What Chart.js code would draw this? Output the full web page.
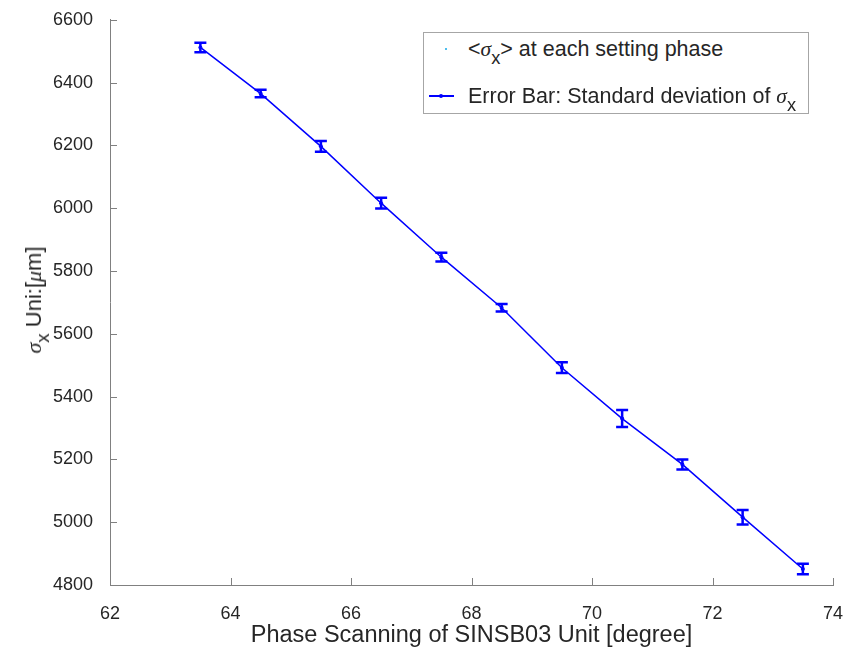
<!DOCTYPE html>
<html>
<head>
<meta charset="utf-8">
<script src="https://cdn.jsdelivr.net/npm/chart.js@4/dist/chart.umd.min.js"></script>
<style>
    body { margin: 0; background: #fff; }
    #wrap { position: relative; width: 849px; height: 650px; font-family: "Liberation Sans", Arial, sans-serif; }
    #sigma-chart { position: absolute; left: 0; top: 0; }
    .sig { font-family: "Liberation Serif", serif; font-style: italic; }
    sub { font-size: 0.85em; vertical-align: -0.45em; line-height: 0; }
    #legend {
        position: absolute; left: 423px; top: 32px; width: 384px; height: 80px;
        border: 1px solid #a6a6a6; background: #fff; color: #262626; font-size: 21.5px;
    }
    #legend .row { position: absolute; left: 0; height: 26px; line-height: 26px; white-space: nowrap; }
    #legend .txt { position: absolute; left: 44px; top: 0; }
    #legend .dot { position: absolute; width: 2px; height: 2px; background: #4dbeee; left: 21px; top: 12px; }
    #legend .ln { position: absolute; left: 5px; width: 25px; height: 1.5px; top: 12px; background: #0000ff; }
    #legend .mk { position: absolute; left: 15px; width: 4px; height: 4px; top: 11px; background: #0000ff; border-radius: 2px; }
    #y-title {
        position: absolute; left: 34px; top: 300px; color: #262626; font-size: 22px; white-space: nowrap;
        transform: translate(-50%, -50%) rotate(-90deg);
    }
</style>
</head>
<body>
<div id="wrap">
    <canvas id="sigma-chart" width="849" height="650"></canvas>
    <div id="legend">
        <div class="row" style="top: 3px; width: 384px;">
            <div class="dot"></div>
            <div class="txt">&lt;<span class="sig">σ</span><sub>x</sub>&gt; at each setting phase</div>
        </div>
        <div class="row" style="top: 50px; width: 384px;">
            <div class="ln"></div><div class="mk"></div>
            <div class="txt">Error Bar: Standard deviation of <span class="sig">σ</span><sub>x</sub></div>
        </div>
    </div>
    <div id="y-title"><span class="sig">σ</span><sub>x</sub> Uni:[<span class="sig">μ</span>m]</div>
</div>
<script>
(function () {
    // phase setting [degree] and measured beam size [um]
    const phase = [63.5, 64.5, 65.5, 66.5, 67.5, 68.5, 69.5, 70.5, 71.5, 72.5, 73.5];
    const sigmaMean = [6512, 6365, 6197, 6016, 5844, 5683, 5492, 5330, 5184, 5016, 4851];
    const sigmaStd = [15, 12, 17, 17, 14, 12, 17, 27, 16, 23, 17];

    const xTicks = [62, 64, 66, 68, 70, 72, 74];
    const yTicks = [4800, 5000, 5200, 5400, 5600, 5800, 6000, 6200, 6400, 6600];

    const TICK_COLOR = '#262626';
    const AXIS_COLOR = '#808080';
    const FONT = '"Liberation Sans", Arial, sans-serif';

    main();

    function main() {
        const meanPoints = phase.map((x, i) => ({ x: x, y: sigmaMean[i] }));

        const errorBarPlugin = {
            id: 'errorBars',
            afterDatasetsDraw(chart) {
                const { ctx, scales } = chart;
                ctx.save();
                ctx.strokeStyle = '#0000ff';
                ctx.lineWidth = 2.5;
                phase.forEach((x, i) => {
                    const px = scales.x.getPixelForValue(x);
                    const top = scales.y.getPixelForValue(sigmaMean[i] + sigmaStd[i]);
                    const bottom = scales.y.getPixelForValue(sigmaMean[i] - sigmaStd[i]);
                    ctx.beginPath();
                    ctx.moveTo(px, top);
                    ctx.lineTo(px, bottom);
                    ctx.moveTo(px - 6, top);
                    ctx.lineTo(px + 6, top);
                    ctx.moveTo(px - 6, bottom);
                    ctx.lineTo(px + 6, bottom);
                    ctx.stroke();
                });
                ctx.restore();
            }
        };

        // matlab style ticks pointing into the plot area
        const innerTicksPlugin = {
            id: 'innerTicks',
            afterDraw(chart) {
                const { ctx, scales, chartArea } = chart;
                ctx.save();
                ctx.strokeStyle = AXIS_COLOR;
                ctx.lineWidth = 1;
                ctx.beginPath();
                scales.x.ticks.forEach((t) => {
                    const px = Math.round(scales.x.getPixelForValue(t.value)) + 0.5;
                    ctx.moveTo(px, chartArea.bottom);
                    ctx.lineTo(px, chartArea.bottom - 7);
                });
                scales.y.ticks.forEach((t) => {
                    const py = Math.round(scales.y.getPixelForValue(t.value)) + 0.5;
                    ctx.moveTo(chartArea.left, py);
                    ctx.lineTo(chartArea.left + 7, py);
                });
                ctx.stroke();
                ctx.restore();
            }
        };

        new Chart(document.getElementById('sigma-chart'), {
            type: 'scatter',
            data: {
                datasets: [
                    {
                        label: 'mean',
                        data: meanPoints,
                        showLine: false,
                        pointRadius: 1,
                        pointBackgroundColor: '#4dbeee',
                        pointBorderWidth: 0,
                    },
                    {
                        label: 'error bar',
                        data: meanPoints,
                        showLine: true,
                        borderColor: '#0000ff',
                        borderWidth: 1.5,
                        pointRadius: 2,
                        pointBackgroundColor: '#0000ff',
                        pointBorderWidth: 0,
                    },
                ],
            },
            options: {
                responsive: false,
                animation: false,
                layout: { padding: { top: 18, right: 16, left: 0, bottom: 0 } },
                plugins: {
                    legend: { display: false },
                    tooltip: { enabled: false },
                },
                scales: {
                    x: {
                        type: 'linear',
                        min: 62,
                        max: 74,
                        afterBuildTicks: (scale) => { scale.ticks = xTicks.map((v) => ({ value: v })); },
                        afterFit: (scale) => {
                            scale.height = 65;
                            scale.paddingLeft = 0;
                            scale.paddingRight = 0;
                        },
                        grid: { display: false },
                        border: { display: true, color: AXIS_COLOR, width: 1 },
                        ticks: {
                            color: TICK_COLOR,
                            padding: 10,
                            maxRotation: 0,
                            callback: (v) => String(v),
                            font: { family: FONT, size: 18 },
                        },
                        title: {
                            display: true,
                            text: 'Phase Scanning of SINSB03 Unit [degree]',
                            color: TICK_COLOR,
                            padding: { top: 0, bottom: 0 },
                            font: { family: FONT, size: 23.5 },
                        },
                    },
                    y: {
                        type: 'linear',
                        min: 4800,
                        max: 6600,
                        afterBuildTicks: (scale) => { scale.ticks = yTicks.map((v) => ({ value: v })); },
                        afterFit: (scale) => { scale.width = 110; },
                        grid: { display: false },
                        border: { display: true, color: AXIS_COLOR, width: 1 },
                        ticks: {
                            color: TICK_COLOR,
                            padding: 9,
                            callback: (v) => String(v),
                            font: { family: FONT, size: 18 },
                        },
                    },
                },
            },
            plugins: [errorBarPlugin, innerTicksPlugin],
        });
    }
})();
</script>
</body>
</html>
